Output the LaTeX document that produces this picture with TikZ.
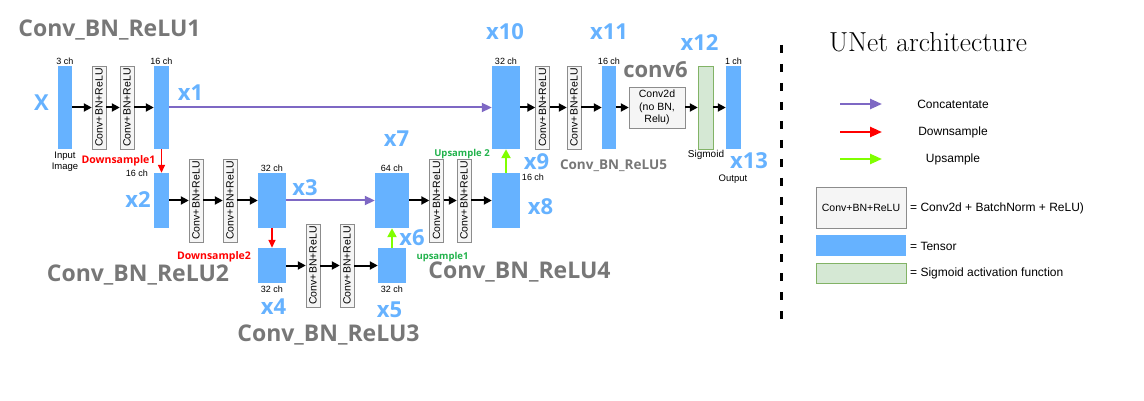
\documentclass[tikz,border=0pt]{standalone}
\usepackage{fontspec}
\newfontfamily\arialf{Liberation Sans}
\newfontfamily\openf{Open Sans}
\usetikzlibrary{arrows.meta, positioning}
\definecolor{tensorblue}{HTML}{66B2FF}
\definecolor{labelgray}{HTML}{777777}
\definecolor{boxfill}{HTML}{F5F5F5}
\definecolor{boxdraw}{HTML}{8C8C8C}
\definecolor{sigfill}{HTML}{D5E8D4}
\definecolor{sigdraw}{HTML}{82B366}
\definecolor{catpurple}{HTML}{7E68C4}
\definecolor{upgreen}{HTML}{80FF00}
\definecolor{downred}{HTML}{FF0000}
\definecolor{upgreentext}{HTML}{22B24C}

\begin{document}
\begin{tikzpicture}[x=1pt, y=-1pt,
  tensor/.style={fill=tensorblue, inner sep=0pt},
  convbox/.style={draw=boxdraw, fill=boxfill, rotate=90, inner sep=0pt,
    minimum width=83pt, minimum height=14pt, font=\arialf\fontsize{10.5}{10.5}\selectfont},
  chtext/.style={font=\arialf\fontsize{9}{9}\selectfont, inner sep=1pt},
  xname/.style={text=tensorblue, font=\openf\bfseries\fontsize{22}{22}\selectfont, inner sep=0pt},
  blockname/.style={text=labelgray, font=\openf\bfseries\fontsize{23}{23}\selectfont, inner sep=0pt},
  arr/.style={line width=2pt, -{Triangle[length=8pt,width=8pt]}},
  cat/.style={catpurple, line width=2pt, -{Triangle[length=10pt,width=9pt]}},
  down/.style={downred, line width=1.5pt, -{Triangle[length=8pt,width=7pt]}},
  up/.style={upgreen, line width=2.5pt, -{Triangle[length=9pt,width=9pt]}},
  legtext/.style={font=\arialf\fontsize{12}{12}\selectfont, inner sep=0pt}]
\useasboundingbox (0,0) rectangle (1144,401);

% encoder, level 1
\node[tensor, minimum width=14pt, minimum height=83pt] (X) at (65,107.5) {};
\node[convbox] (c1) at (99,107.5) {Conv+BN+ReLU};
\node[convbox] (c2) at (127,107.5) {Conv+BN+ReLU};
\node[tensor, minimum width=15pt, minimum height=83pt] (x1) at (161.5,107.5) {};
\draw[arr] (X) -- (c1);
\draw[arr] (c1) -- (c2);
\draw[arr] (c2) -- (x1);
\node[chtext, above=0pt of X] (chX) {3 ch};
\node[chtext, above=0pt of x1] (chx1) {16 ch};
\node[chtext, align=center, font=\arialf\fontsize{9.5}{11}\selectfont] (inimg) at (65,162) {Input\\Image};

% encoder, level 2
\node[tensor, minimum width=15pt, minimum height=55pt] (x2) at (161.5,200.5) {};
\node[convbox] (c3) at (196,200.5) {Conv+BN+ReLU};
\node[convbox] (c4) at (230,200.5) {Conv+BN+ReLU};
\node[tensor, minimum width=28pt, minimum height=55pt] (x3) at (272,200.5) {};
\draw[arr] (x2) -- (c3);
\draw[arr] (c3) -- (c4);
\draw[arr] (c4) -- (x3);
\draw[down] (x1) -- (x2);
\node[chtext] (chx2) at (137,173) {16 ch};
\node[chtext, above=0pt of x3] (chx3) {32 ch};

% bottom level
\node[tensor, minimum width=28pt, minimum height=35pt] (x4) at (272,265.5) {};
\node[convbox] (c5) at (313,265.5) {Conv+BN+ReLU};
\node[convbox] (c6) at (347,265.5) {Conv+BN+ReLU};
\node[tensor, minimum width=28pt, minimum height=35pt] (x5) at (392,265.5) {};
\draw[arr] (x4) -- (c5);
\draw[arr] (c5) -- (c6);
\draw[arr] (c6) -- (x5);
\draw[down] (x3) -- (x4);
\node[chtext, below=2pt of x4] (chx4) {32 ch};
\node[chtext, below=2pt of x5] (chx5) {32 ch};

% decoder, level 2
\node[tensor, minimum width=34pt, minimum height=55pt] (x7) at (392,200.5) {};
\node[convbox] (c7) at (436.5,200.5) {Conv+BN+ReLU};
\node[convbox] (c8) at (464,200.5) {Conv+BN+ReLU};
\node[tensor, minimum width=28pt, minimum height=55pt] (x8) at (506,200.5) {};
\draw[arr] (x7) -- (c7);
\draw[arr] (c7) -- (c8);
\draw[arr] (c8) -- (x8);
\draw[cat] (x3) -- (x7);
\draw[up] (x5) -- (x7);
\node[chtext, above=0pt of x7] (chx7) {64 ch};
\node[chtext] (chx8) at (533,177) {16 ch};

% decoder, level 1
\node[tensor, minimum width=28pt, minimum height=83pt] (x10) at (506,107.5) {};
\node[convbox] (c9) at (542.5,107.5) {Conv+BN+ReLU};
\node[convbox] (c10) at (574,107.5) {Conv+BN+ReLU};
\node[tensor, minimum width=14pt, minimum height=83pt] (x11) at (609,107.5) {};
\node[draw=boxdraw, fill=boxfill, minimum width=56pt, minimum height=41pt, inner sep=0pt,
  align=center, font=\arialf\fontsize{10.5}{12.5}\selectfont] (conv2d) at (657,107.5) {Conv2d\\(no BN,\\Relu)};
\node[draw=sigdraw, fill=sigfill, minimum width=15pt, minimum height=83pt, inner sep=0pt] (sig) at (705.5,107.5) {};
\node[tensor, minimum width=15pt, minimum height=83pt] (out) at (733.5,107.5) {};
\draw[arr] (x10) -- (c9);
\draw[arr] (c9) -- (c10);
\draw[arr] (c10) -- (x11);
\draw[arr] (x11) -- (conv2d);
\draw[arr] (conv2d) -- (sig);
\draw[arr] (sig) -- (out);
\draw[cat] (x1) -- (x10);
\draw[up] (x8) -- (x10);
\node[chtext, above=0pt of x10] (chx10) {32 ch};
\node[chtext, above=0pt of x11] (chx11) {16 ch};
\node[chtext, above=0pt of out] (chout) {1 ch};
\node[chtext, font=\arialf\fontsize{10}{10}\selectfont] (sigtext) at (706,155) {Sigmoid};
\node[chtext, font=\arialf\fontsize{9.5}{9.5}\selectfont] (outtext) at (733,179) {Output};

% tensor names
\node[xname] (nX) at (41.5,103) {X};
\node[xname] (n1) at (190.5,93) {x1};
\node[xname] (n2) at (138,200) {x2};
\node[xname] (n3) at (305,188) {x3};
\node[xname] (n4) at (273.5,307) {x4};
\node[xname] (n5) at (389.5,310) {x5};
\node[xname] (n6) at (412,238) {x6};
\node[xname] (n7) at (396.5,139) {x7};
\node[xname] (n8) at (540.5,207) {x8};
\node[xname] (n9) at (536.5,162) {x9};
\node[xname] (n10) at (505,32) {x10};
\node[xname] (n11) at (609,32) {x11};
\node[xname] (n12) at (699.5,43) {x12};
\node[xname] (n13) at (749,161) {x13};

% block names
\node[blockname] (b1) at (109.5,30) {Conv\_BN\_ReLU1};
\node[blockname] (b2) at (138,275) {Conv\_BN\_ReLU2};
\node[blockname] (b3) at (328.5,335) {Conv\_BN\_ReLU3};
\node[blockname] (b4) at (519.5,272) {Conv\_BN\_ReLU4};
\node[blockname, font=\openf\bfseries\fontsize{13.5}{13.5}\selectfont] (b5) at (613.5,166) {Conv\_BN\_ReLU5};
\node[blockname, font=\openf\bfseries\fontsize{22}{22}\selectfont] (b6) at (655.5,70) {conv6};

% sampling names
\node[text=downred, font=\openf\bfseries\fontsize{10.5}{10.5}\selectfont, inner sep=0pt] (d1) at (118.5,161) {Downsample1};
\node[text=downred, font=\openf\bfseries\fontsize{10.5}{10.5}\selectfont, inner sep=0pt] (d2) at (214,257) {Downsample2};
\node[text=upgreentext, font=\openf\bfseries\fontsize{9.5}{9.5}\selectfont, inner sep=0pt] (u1) at (442.5,257) {upsample1};
\node[text=upgreentext, font=\openf\bfseries\fontsize{9.5}{9.5}\selectfont, inner sep=0pt] (u2) at (462,154) {Upsample 2};

% legend
\draw[line width=3pt, dash pattern=on 8pt off 11pt] (781,45) -- (781,322);
\node[font=\fontsize{27.5}{27.5}\selectfont, inner sep=0pt] (title) at (928,42) {UNet architecture};
\coordinate (lc1) at (840,104); \coordinate (lc2) at (882,104);
\coordinate (ld1) at (840,132); \coordinate (ld2) at (882,132);
\coordinate (lu1) at (840,159); \coordinate (lu2) at (882,159);
\draw[cat, line width=2.5pt, -{Triangle[length=12pt,width=10pt]}] (lc1) -- (lc2);
\draw[down, line width=2.5pt, -{Triangle[length=12pt,width=10pt]}] (ld1) -- (ld2);
\draw[up, line width=2.5pt, -{Triangle[length=12pt,width=10pt]}] (lu1) -- (lu2);
\node[legtext] (lct) at (953,104) {Concatentate};
\node[legtext] (ldt) at (953,132) {Downsample};
\node[legtext] (lut) at (953,159) {Upsample};
\node[draw=boxdraw, fill=boxfill, minimum width=90pt, minimum height=41pt, inner sep=0pt,
  font=\arialf\fontsize{10.5}{10.5}\selectfont] (lbox) at (861,207.5) {Conv+BN+ReLU};
\node[tensor, minimum width=90pt, minimum height=21pt] (ltensor) at (861,245.5) {};
\node[draw=sigdraw, fill=sigfill, minimum width=90pt, minimum height=20pt, inner sep=0pt] (lsig) at (861,273) {};
\node[legtext, anchor=west] (lboxt) at (910,208) {= Conv2d + BatchNorm + ReLU)};
\node[legtext, anchor=west] (ltensort) at (910,246) {= Tensor};
\node[legtext, anchor=west] (lsigt) at (910,273) {= Sigmoid activation function};
\end{tikzpicture}
\end{document}
